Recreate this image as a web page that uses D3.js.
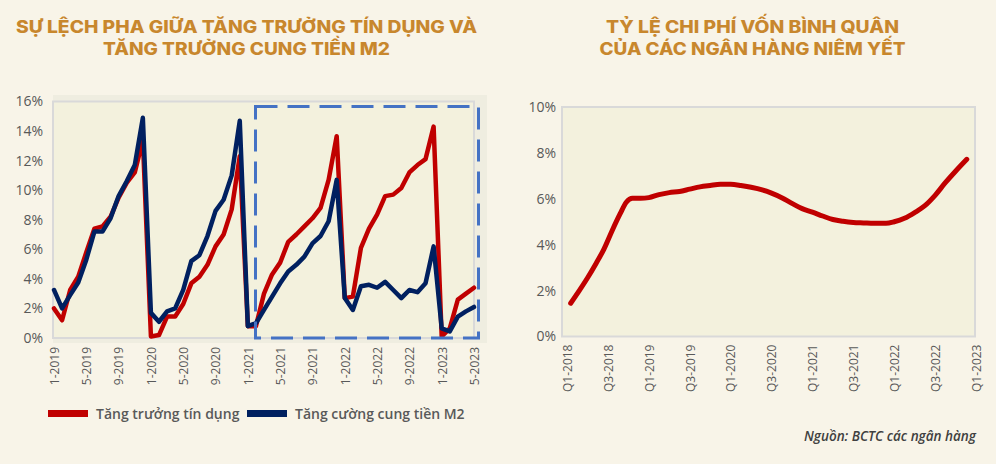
<!DOCTYPE html>
<html><head><meta charset="utf-8">
<script src="https://cdn.jsdelivr.net/npm/d3@7/dist/d3.min.js"></script>
<style>
html,body{margin:0;padding:0;background:#f8f4e8;}
svg{display:block;}
</style></head><body>
<svg id="c" width="996" height="464"></svg>
<script>
// ---------- DATA ----------
const months = [
 "1-2019","2-2019","3-2019","4-2019","5-2019","6-2019","7-2019","8-2019","9-2019","10-2019","11-2019","12-2019",
 "1-2020","2-2020","3-2020","4-2020","5-2020","6-2020","7-2020","8-2020","9-2020","10-2020","11-2020","12-2020",
 "1-2021","2-2021","3-2021","4-2021","5-2021","6-2021","7-2021","8-2021","9-2021","10-2021","11-2021","12-2021",
 "1-2022","2-2022","3-2022","4-2022","5-2022","6-2022","7-2022","8-2022","9-2022","10-2022","11-2022","12-2022",
 "1-2023","2-2023","3-2023","4-2023","5-2023"];
const creditGrowth = [2.0,1.2,3.25,4.15,5.8,7.4,7.55,8.2,9.5,10.5,11.2,13.4,
 0.1,0.2,1.45,1.45,2.3,3.7,4.15,4.95,6.2,7.0,8.7,12.3,
 0.8,0.8,3.0,4.3,5.1,6.5,7.0,7.55,8.1,8.8,10.7,13.65,
 2.7,2.8,6.1,7.4,8.35,9.6,9.7,10.15,11.2,11.7,12.1,14.3,
 0.1,0.65,2.6,3.0,3.4];
const m2Growth = [3.25,2.0,2.9,3.75,5.3,7.2,7.2,8.1,9.6,10.6,11.7,14.9,
 1.7,1.1,1.8,2.0,3.25,5.2,5.6,6.9,8.6,9.35,11.0,14.7,
 0.8,1.0,1.9,2.8,3.7,4.5,4.95,5.5,6.4,6.9,7.9,10.7,
 2.7,1.9,3.5,3.6,3.4,3.8,3.25,2.7,3.25,3.1,3.7,6.2,
 0.65,0.45,1.45,1.8,2.1];
const leftXTicks = ["1-2019","5-2019","9-2019","1-2020","5-2020","9-2020","1-2021","5-2021","9-2021","1-2022","5-2022","9-2022","1-2023","5-2023"];
const leftYTicks = [0,2,4,6,8,10,12,14,16];
const leftSeriesNames = ["Tăng trưởng tín dụng","Tăng cường cung tiền M2"];

// Right chart: position in quarters since Q1-2018, value in %
const costT = [0.18,0.6,1.0,1.4,1.8,2.2,2.6,2.9,3.2,3.6,4.0,4.5,5.0,5.5,6.0,6.5,7.0,7.5,8.0,8.5,9.0,9.5,10.0,10.5,11.0,11.5,12.0,12.5,13.0,13.5,14.0,14.5,15.0,15.6,16.0,16.5,17.0,17.5,18.0,18.5,19.0,19.55];
const costValues = [1.45,2.0,2.55,3.15,3.8,4.6,5.35,5.85,6.02,6.02,6.05,6.18,6.27,6.32,6.42,6.52,6.58,6.63,6.63,6.58,6.5,6.4,6.25,6.05,5.8,5.57,5.42,5.25,5.1,5.02,4.97,4.95,4.93,4.93,5.0,5.15,5.4,5.7,6.15,6.7,7.2,7.72];
const rightXTicks = ["Q1-2018","Q3-2018","Q1-2019","Q3-2019","Q1-2020","Q3-2020","Q1-2021","Q3-2021","Q1-2022","Q3-2022","Q1-2023"];
const rightXTickPos = [0,2,4,6,8,10,12,14,16,18,20];
const rightYTicks = [0,2,4,6,8,10];

const titleLeft = ["SỰ LỆCH PHA GIỮA TĂNG TRƯỞNG TÍN DỤNG VÀ","TĂNG TRƯỞNG CUNG TIỀN M2"];
const titleRight = ["TỶ LỆ CHI PHÍ VỐN BÌNH QUÂN","CỦA CÁC NGÂN HÀNG NIÊM YẾT"];
const sourceText = "Nguồn: BCTC các ngân hàng";

// ---------- STYLE ----------
const RED = "#c00000", NAVY = "#002060", DASH = "#4472c4";
const TITLE = "#c8872d", LABEL = "#595959";
const PLOTBG = "#f3f1dd", PAGEBG = "#f8f4e8", BORDER = "#d9d9d9";
const FONT = "'Open Sans', 'Noto Sans', sans-serif";

const svg = d3.select("#c");
svg.append("rect").attr("width",996).attr("height",464).attr("fill",PAGEBG);

// ---------- TITLES ----------
function title(lines, cx, widths) {
  lines.forEach((t,i) => {
    svg.append("text").attr("x",cx).attr("y",32.5 + i*22.5)
      .attr("text-anchor","middle")
      .attr("font-family","Inter, 'Liberation Sans', Arial, sans-serif")
      .attr("font-weight",800).attr("font-size",17)
      .attr("fill",TITLE)
      .attr("textLength",widths[i]).attr("lengthAdjust","spacingAndGlyphs")
      .text(t);
  });
}
title(titleLeft, 246.5, [461, 287]);
title(titleRight, 752.5, [293, 306]);

// ---------- LEFT CHART ----------
const L = {left:53, right:474, top:101.5, bottom:338};
const xL = d3.scalePoint().domain(months).range([54, 474]);
const yL = d3.scaleLinear().domain([0,16]).range([L.bottom, L.top]);

svg.append("rect").attr("x",L.left).attr("y",95).attr("width",487-L.left).attr("height",343-95)
  .attr("fill","#efede0");
svg.append("rect").attr("x",L.left).attr("y",L.top).attr("width",L.right-L.left).attr("height",L.bottom-L.top)
  .attr("fill",PLOTBG).attr("stroke",BORDER).attr("stroke-width",2);

const yAxL = svg.append("g").attr("transform",`translate(${L.left},0)`)
  .call(d3.axisLeft(yL).tickValues(leftYTicks).tickFormat(d=>d+"%").tickSize(0).tickPadding(10));
yAxL.select(".domain").remove();
yAxL.selectAll("text").attr("font-family",FONT).attr("font-size",14).attr("fill",LABEL);

const xAxL = svg.append("g").attr("transform",`translate(0,${L.bottom})`)
  .call(d3.axisBottom(xL).tickValues(leftXTicks).tickSize(0));
xAxL.select(".domain").remove();
xAxL.selectAll("text").attr("font-family",FONT).attr("font-size",12).attr("fill",LABEL)
  .attr("transform","rotate(-90)").attr("text-anchor","end")
  .attr("x",-9).attr("y",0).attr("dy","0.36em");

const lineL = d3.line().x((d,i)=>xL(months[i])).y(d=>yL(d)).curve(d3.curveLinear);
svg.append("path").datum(creditGrowth).attr("d",lineL).attr("fill","none")
  .attr("stroke",RED).attr("stroke-width",4.5).attr("stroke-linejoin","round").attr("stroke-linecap","round");
svg.append("path").datum(m2Growth).attr("d",lineL).attr("fill","none")
  .attr("stroke",NAVY).attr("stroke-width",4.5).attr("stroke-linejoin","round").attr("stroke-linecap","round");

// dashed highlight box (annotation)
svg.append("rect").attr("x",255.5).attr("y",106.5).attr("width",478.5-255.5).attr("height",338-106.5)
  .attr("fill","none").attr("stroke",DASH).attr("stroke-width",3).attr("stroke-dasharray","22,10");

// legend
const legend = [
  {name:leftSeriesNames[0], color:RED, x:48},
  {name:leftSeriesNames[1], color:NAVY, x:247}
];
legend.forEach(l => {
  svg.append("rect").attr("x",l.x).attr("y",410).attr("width",40).attr("height",7).attr("fill",l.color);
  svg.append("text").attr("x",l.x+48).attr("y",418.5)
    .attr("font-family",FONT).attr("font-weight",600).attr("font-size",14).attr("fill",LABEL)
    .text(l.name);
});

// ---------- RIGHT CHART ----------
const R = {left:562, right:975, top:107, bottom:336.5};
const xR = d3.scaleLinear().domain([0,20]).range([567, 976]);
const yR = d3.scaleLinear().domain([0,10]).range([R.bottom, R.top]);

svg.append("rect").attr("x",R.left).attr("y",R.top).attr("width",R.right-R.left).attr("height",R.bottom-R.top)
  .attr("fill",PLOTBG).attr("stroke",BORDER).attr("stroke-width",2);

const yAxR = svg.append("g").attr("transform",`translate(${R.left},0)`)
  .call(d3.axisLeft(yR).tickValues(rightYTicks).tickFormat(d=>d+"%").tickSize(0).tickPadding(6));
yAxR.select(".domain").remove();
yAxR.selectAll("text").attr("font-family",FONT).attr("font-size",14).attr("fill",LABEL);

const xAxR = svg.append("g").attr("transform",`translate(0,${R.bottom})`)
  .call(d3.axisBottom(xR).tickValues(rightXTickPos).tickFormat((d,i)=>rightXTicks[i]).tickSize(0));
xAxR.select(".domain").remove();
xAxR.selectAll("text").attr("font-family",FONT).attr("font-size",12).attr("fill",LABEL)
  .attr("transform","rotate(-90)").attr("text-anchor","end")
  .attr("x",-8).attr("y",0).attr("dy","0.36em");

const lineR = d3.line().x((d,i)=>xR(costT[i])).y(d=>yR(d)).curve(d3.curveMonotoneX);
svg.append("path").datum(costValues).attr("d",lineR).attr("fill","none")
  .attr("stroke",RED).attr("stroke-width",5).attr("stroke-linejoin","round").attr("stroke-linecap","round");

// source
svg.append("text").attr("x",976).attr("y",441).attr("text-anchor","end")
  .attr("font-family",FONT).attr("font-style","italic").attr("font-weight",600)
  .attr("font-size",13.5).attr("fill","#404040").text(sourceText);
</script>
</body></html>
